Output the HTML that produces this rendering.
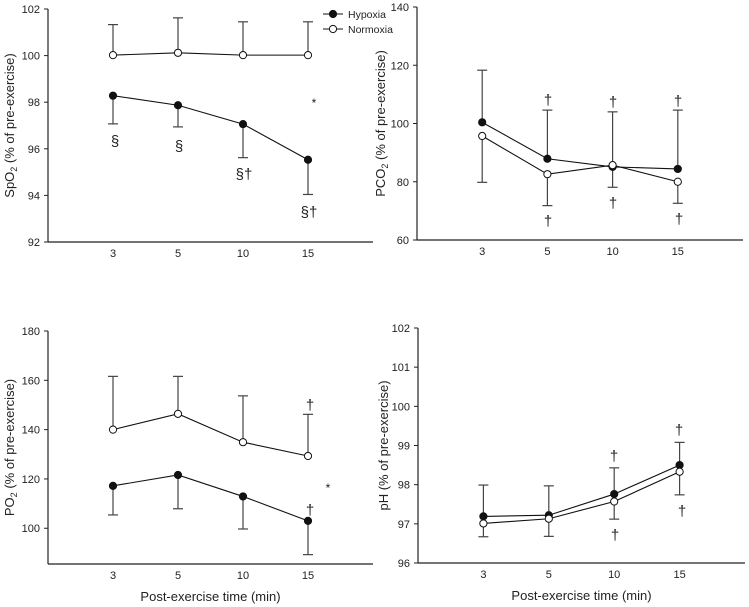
<!DOCTYPE html>
<html><head><meta charset="utf-8"><style>
body{margin:0;background:#fff;width:749px;height:607px;overflow:hidden}
svg{display:block;font-family:"Liberation Sans",sans-serif}
</style></head><body>
<svg id="chart" width="749" height="607" viewBox="0 0 749 607"></svg>
<script>
const categories=["3","5","10","15"];
// SpO2
const spo2Hyp=[98.28,97.87,97.06,95.53];
const spo2HypLow=[97.07,96.94,95.62,94.04];
const spo2Nor=[100.02,100.12,100.02,100.02];
const spo2NorHigh=[101.33,101.62,101.45,101.45];
const spo2Ticks=[92,94,96,98,100,102];
// PCO2
const pco2Hyp=[100.4,87.9,85.1,84.4];
const pco2HypHigh=[118.3,104.6,104,104.6];
const pco2Nor=[95.7,82.6,85.7,80.0];
const pco2NorLow=[79.8,71.8,78.1,72.6];
const pco2Ticks=[60,80,100,120,140];
// PO2
const po2Hyp=[117.2,121.6,112.9,103.0];
const po2HypLow=[105.4,107.9,99.7,89.3];
const po2Nor=[140,146.4,134.9,129.3];
const po2NorHigh=[161.6,161.6,153.7,146.2];
const po2Ticks=[100,120,140,160,180];
// pH
const phHyp=[97.19,97.22,97.76,98.5];
const phHypHigh=[97.99,97.97,98.43,99.08];
const phNor=[97.01,97.13,97.57,98.33];
const phNorLow=[96.67,96.68,97.12,97.74];
const phTicks=[96,97,98,99,100,101,102];

const NS="http://www.w3.org/2000/svg";
const svg=document.getElementById('chart');
function el(tag,attrs,parent,text){const e=document.createElementNS(NS,tag);for(const k in attrs)e.setAttribute(k,attrs[k]);if(text!==undefined)e.textContent=text;(parent||svg).appendChild(e);return e;}

function panel(p){
  const g=el('g',{});
  
  
  const y=v=>p.y1-(v-p.ymin)/(p.ymax-p.ymin)*(p.y1-p.y0);
  const step=(p.x1-p.x0)/5;
  const x=i=>p.x0+step*(i+1);
  const ax=el('line',{x1:p.x0,y1:p.y0,x2:p.x0,y2:p.y1,stroke:'#222','stroke-width':1.2},g);
  
  const bx=el('line',{x1:p.x0,y1:p.y1,x2:p.x1,y2:p.y1,stroke:'#222','stroke-width':1.2},g);
  
  p.ticks.forEach(t=>{
    el('line',{x1:p.x0-4,x2:p.x0,y1:y(t),y2:y(t),stroke:'#222'},g);
    const tl=el('text',{x:p.x0-8,y:y(t)+4,'text-anchor':'end','font-size':11,fill:'#222'},g,t);
    
  });
  categories.forEach((c,i)=>{
    const tl=el('text',{x:x(i),y:p.y1+15,'text-anchor':'middle','font-size':11,fill:'#222'},g,c);
    
  });
  const yt=el('text',{transform:`translate(${p.tx},${(p.y0+p.y1)/2}) rotate(-90)`,'text-anchor':'middle','font-size':13,fill:'#222'},g);
  
  el('tspan',{},yt,p.t1);
  if(p.sub){el('tspan',{'font-size':9,dy:3},yt,p.sub);el('tspan',{dy:-3},yt,p.t2);}
  if(p.xtitle){const xt=el('text',{x:(p.x0+p.x1)/2,y:p.y1+37,'text-anchor':'middle','font-size':13,fill:'#222'},g,'Post-exercise time (min)');
    }
  function err(vals,ends,name){vals.forEach((v,i)=>{
    const l=el('line',{x1:x(i),x2:x(i),y1:y(v),y2:y(ends[i]),stroke:'#444','stroke-width':1.2},g);
    
    el('line',{x1:x(i)-5,x2:x(i)+5,y1:y(ends[i]),y2:y(ends[i]),stroke:'#444','stroke-width':1.2},g);
  });}
  err(p.hyp,p.hypE,'hypoxia-error-bar');err(p.nor,p.norE,'normoxia-error-bar');
  function series(vals,fill,name){
    const pl=el('polyline',{points:vals.map((v,i)=>x(i)+','+y(v)).join(' '),fill:'none',stroke:'#111','stroke-width':1.1},g);
    
    vals.forEach((v,i)=>{const c=el('circle',{cx:x(i),cy:y(v),r:3.6,fill:fill,stroke:'#111','stroke-width':1},g);
      });
  }
  series(p.hyp,'#111','hypoxia');series(p.nor,'#fff','normoxia');
  (p.notes||[]).forEach(n=>{const t=el('text',{x:n[0],y:n[1],'text-anchor':'middle','font-size':n[3]||15,fill:'#222'},g,n[2]);
    });
}

panel({name:'spo2-panel',x0:48,x1:373,y0:9,y1:242,ymin:92,ymax:102,ticks:spo2Ticks,tx:14,t1:'SpO',sub:'2',t2:' (% of pre-exercise)',
  hyp:spo2Hyp,hypE:spo2HypLow,nor:spo2Nor,norE:spo2NorHigh,
  notes:[[115,146,'§'],[179,151,'§'],[244,179,'§†'],[309,217,'§†'],[314,107,'*',12]]});
panel({name:'pco2-panel',x0:417,x1:743,y0:7,y1:240,ymin:60,ymax:140,ticks:pco2Ticks,tx:385,t1:'PCO',sub:'2',t2:' (% of pre-exercise)',
  hyp:pco2Hyp,hypE:pco2HypHigh,nor:pco2Nor,norE:pco2NorLow,
  notes:[[548,105,'†'],[613,107,'†'],[678,106,'†'],[548,226,'†'],[613,208,'†'],[679,224,'†']]});
panel({name:'po2-panel',x0:48,x1:373,y0:331,y1:564,ymin:85.5,ymax:180,ticks:po2Ticks,tx:14,t1:'PO',sub:'2',t2:' (% of pre-exercise)',xtitle:true,
  hyp:po2Hyp,hypE:po2HypLow,nor:po2Nor,norE:po2NorHigh,
  notes:[[310,410,'†'],[310,515,'†'],[328,492,'*',12]]});
panel({name:'ph-panel',x0:418,x1:745,y0:328,y1:563,ymin:96,ymax:102,ticks:phTicks,tx:388,t1:'pH (% of pre-exercise)',xtitle:true,
  hyp:phHyp,hypE:phHypHigh,nor:phNor,norE:phNorLow,
  notes:[[614,461,'†'],[615,540,'†'],[679,435,'†'],[682,516,'†']]});

const lg=el('g',{});


[['Hypoxia','#111',14],['Normoxia','#fff',29]].forEach(d=>{
  const e=el('g',{},lg);
  
  
  el('line',{x1:323,x2:343,y1:d[2],y2:d[2],stroke:'#111','stroke-width':1.1},e);
  el('circle',{cx:333,cy:d[2],r:3.6,fill:d[1],stroke:'#111'},e);
  el('text',{x:348,y:d[2]+4,'font-size':10.5,fill:'#222'},e,d[0]);
});
</script>
</body></html>
